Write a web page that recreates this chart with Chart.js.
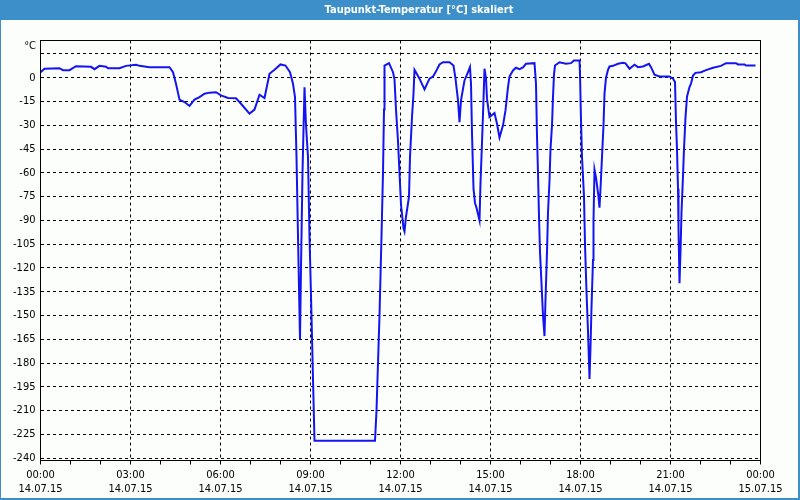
<!DOCTYPE html>
<html>
<head>
<meta charset="utf-8">
<script src="https://cdn.jsdelivr.net/npm/chart.js@4/dist/chart.umd.min.js"></script>
<style>
html,body{margin:0;padding:0;background:#fcfefc;}
#wrap{width:800px;height:500px;position:relative;}
canvas{display:block;}
</style>
</head>
<body>
<div id="wrap"><canvas id="c" width="800" height="500"></canvas></div>
<script>
// ---- data (minutes since 14.07.15 00:00, dew point in °C) ----
const titleText = 'Taupunkt-Temperatur [°C] skaliert';
const unitLabel = '°C';
const timesMin = [0,8,38,45,58,71,101,108,118,131,135,158,171,191,198,218,258,265,271,278,288,298,308,318,328,338,351,361,375,391,401,418,428,438,448,458,468,480,490,499,505,509,512,515,519,521,524,528,531,535,538,542,545,548,669,672,678,682,685,687,688,697,705,708,711,715,718,721,726,728,731,737,739,743,746,748,758,768,778,785,790,798,805,818,826,830,835,838,841,848,855,859,861,863,866,869,872,878,880,883,886,888,891,893,898,908,913,918,925,930,935,938,945,951,958,965,971,988,991,993,995,997,999,1002,1005,1008,1010,1013,1015,1018,1020,1023,1025,1027,1029,1038,1051,1061,1067,1078,1079,1081,1083,1087,1089,1092,1095,1098,1100,1102,1105,1106,1108,1111,1116,1118,1120,1123,1126,1128,1131,1135,1138,1145,1155,1165,1170,1178,1188,1195,1205,1217,1221,1228,1238,1258,1265,1269,1271,1273,1275,1276,1278,1280,1282,1285,1287,1290,1293,1298,1301,1305,1310,1321,1331,1345,1361,1371,1391,1395,1408,1411,1430];
const dewPoint = [3.5,5.7,6,4.8,4.8,7.3,6.9,5.4,7.5,6.9,6,6,7.5,8.2,7.5,6.7,6.7,3.5,-3.8,-13.8,-15.3,-17.8,-13.8,-12.2,-10.1,-9.4,-9.1,-11.1,-12.8,-13,-16.4,-22.6,-20.1,-10.7,-12.8,2.5,5,8.4,7.7,3.5,-3.8,-12.2,-50,-100,-165,-120,-60,-6,-30,-50,-100,-150,-190,-229,-229,-210,-150,-100,-60,-20,7.7,9.2,3.5,-1,-20,-40,-60,-80,-95,-97,-87.7,-75,-50,-24.8,-10,5,-0.6,-7.4,-0.6,0.8,3.4,8.4,9.8,9.8,7.7,-0.6,-14.3,-28,-14.3,-1.7,3.5,6.7,-3.8,-35,-70,-79,-82,-90,-66.5,-41,-14,5.7,-0.6,-13.2,-24.8,-22.3,-29,-37.7,-30,-20.6,-5.9,0.8,4.6,6.3,5.4,6.5,8.8,9.2,-3.8,-37,-60,-87.7,-110,-130,-150,-163,-140,-110,-85,-65,-45,-30,-12,2,7.7,9.8,8.8,9.2,10.9,10.9,2.5,-26.9,-50,-75,-105,-135,-160,-190,-170,-145,-115,-90,-58,-63,-75,-82,-70,-50,-30,-10,0,5,7.1,7.5,8.8,9.4,9.1,5.7,8.2,6.7,7.1,8.8,6.7,1.9,0.8,0.8,-0.6,-2.7,-28,-45,-70,-95,-129.6,-110,-85,-62,-45,-25,-12,-5.9,-3.8,1.4,3.1,3.5,4.8,6.3,7.5,9.2,9.2,8.4,8.4,7.7,7.7];
const xTickTimes = ['00:00','03:00','06:00','09:00','12:00','15:00','18:00','21:00','00:00'];
const xTickDates = ['14.07.15','14.07.15','14.07.15','14.07.15','14.07.15','14.07.15','14.07.15','14.07.15','15.07.15'];
const yMin = -241.5, yMax = 23.5, yStep = 15;

const FONT = "'DejaVu Sans Condensed', 'Liberation Sans', sans-serif";

const frame = {
  id: 'frame',
  beforeDraw(chart) {
    const c = chart.ctx;
    c.save();
    c.fillStyle = '#fcfefc';
    c.fillRect(0, 0, chart.width, chart.height);
    c.fillStyle = '#3c8fc8';
    c.fillRect(0, 0, chart.width, 20);
    c.fillRect(0, 0, 1, chart.height);
    c.fillRect(chart.width - 2, 0, 2, chart.height);
    c.fillRect(0, chart.height - 2, chart.width, 2);
    c.fillStyle = '#ffffff';
    c.font = "bold 11px " + FONT;
    c.textAlign = 'center';
    c.textBaseline = 'middle';
    c.fillText(titleText, 419, 10);
    c.fillStyle = '#000';
    c.font = "11px " + FONT;
    c.textAlign = 'right';
    c.fillText(unitLabel, 36, 46);
    c.restore();
  },
  afterDraw(chart) {
    const a = chart.chartArea, c = chart.ctx;
    c.save();
    c.strokeStyle = '#000';
    c.lineWidth = 1;
    c.setLineDash([]);
    c.strokeRect(Math.round(a.left - 0.5) + 0.5, Math.round(a.top - 0.5) + 0.5,
                 Math.round(a.right - a.left), Math.round(a.bottom - a.top));
    c.restore();
  }
};

new Chart(document.getElementById('c'), {
  type: 'line',
  data: {
    datasets: [{
      data: timesMin.map((t, i) => ({x: t, y: dewPoint[i]})),
      borderColor: '#1414f0',
      borderWidth: 2,
      pointRadius: 0,
      tension: 0,
      fill: false
    }]
  },
  options: {
    responsive: false,
    animation: false,
    layout: {padding: {top: 40.5, left: 0, right: 39.5, bottom: 0}},
    plugins: {legend: {display: false}, title: {display: false}, tooltip: {enabled: false}},
    scales: {
      x: {
        type: 'linear',
        min: 0, max: 1440,
        afterFit(s) { s.height = 39.5; },
        border: {display: false, dash: [3, 3]},
        grid: {
          color: (ctx) => { const v = ctx.tick && ctx.tick.value; return (v % 180 === 0 && v > 0 && v < 1440) ? '#000' : 'rgba(0,0,0,0)'; },
          tickColor: '#000',
          tickLength: 4,
          lineWidth: 1
        },
        ticks: {
          stepSize: 60,
          autoSkip: false,
          maxRotation: 0,
          padding: 4,
          color: '#000',
          font: {family: FONT, size: 11, lineHeight: '14px'},
          callback: (v) => (v % 180 === 0) ? [xTickTimes[v / 180], xTickDates[v / 180]] : ''
        }
      },
      y: {
        min: yMin, max: yMax,
        afterFit(s) { s.width = 40.5; },
        border: {display: false, dash: [3, 3]},
        grid: {color: '#000', lineWidth: 1, drawTicks: false},
        ticks: {
          stepSize: yStep,
          includeBounds: false,
          padding: 5,
          color: '#000',
          font: {family: FONT, size: 11},
          callback: (v) => (v > 0 ? '' : String(v))
        }
      }
    }
  },
  plugins: [frame]
});
</script>
</body>
</html>
